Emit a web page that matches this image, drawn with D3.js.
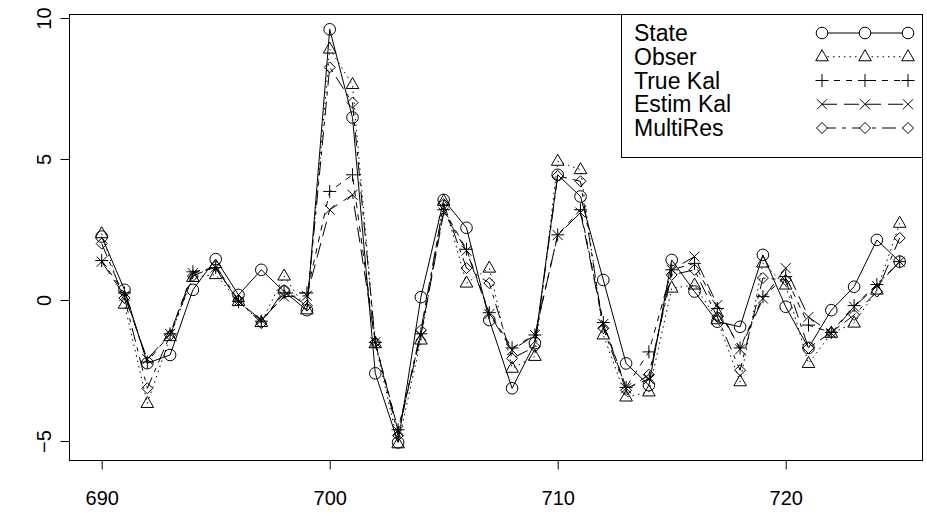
<!DOCTYPE html>
<meta charset="utf-8">
<style>
body { margin: 0; background: #fff; }
text { font-family: "Liberation Sans", Arial, sans-serif; font-size: 20px; fill: #000; }
</style>
<svg width="927" height="516"></svg>
<script src="https://d3js.org/d3.v7.min.js"></script>
<script>

// time index
var steps = d3.range(690, 726);

var state    = [2.25, 0.36, -2.24, -1.95, 0.36, 1.45, 0.18, 1.07, 0.3, -0.36, 9.6, 6.47, -2.6, -5.05, 0.1, 3.55, 2.56, -0.71, -3.13, -1.53, 4.44, 3.67, 0.71, -2.25, -3.02, 1.42, 0.3, -0.77, -0.95, 1.6, -0.24, -1.7, -0.36, 0.47, 2.13, 1.36];
var obser    = [2.35, -0.15, -3.67, -1.3, 0.8, 0.9, -0.05, -0.8, 0.85, -0.35, 8.9, 7.64, -1.55, -5.1, -1.42, 3.5, 0.6, 1.13, -2.42, -2.0, 4.92, 4.62, -1.24, -3.44, -3.26, 0.42, 0.53, -0.7, -2.9, 1.31, 0.53, -2.25, -1.18, -0.82, 0.35, 2.72];
var trueKal  = [1.4, 0.25, -2.2, -1.2, 1.0, 1.15, -0.05, -0.75, 0.25, 0.25, 3.85, 4.44, -1.5, -4.6, -1.2, 3.2, 1.8, -0.45, -1.7, -1.24, 2.31, 3.2, -0.8, -3.1, -1.84, 1.07, 1.3, -0.3, -1.7, 0.12, 0.83, -0.89, -1.15, -0.2, 0.55, 1.36];
var estimKal = [1.36, 0.15, -2.1, -1.2, 0.95, 1.15, -0.05, -0.71, 0.12, 0.15, 3.2, 3.73, -1.5, -4.65, -1.25, 3.1, 1.75, -0.5, -1.78, -1.24, 2.3, 3.1, -0.85, -3.13, -2.8, 1.07, 1.54, -0.18, -1.75, 0.05, 1.13, -0.6, -1.18, -0.24, 0.5, 1.36];
var multiRes = [2.0, 0.07, -3.13, -1.25, 0.85, 1.2, 0.0, -0.82, 0.35, -0.2, 8.25, 7.0, -1.5, -4.8, -1.07, 3.4, 1.13, 0.6, -2.07, -1.66, 4.4, 4.21, -1.0, -3.2, -2.65, 0.89, 1.07, -0.6, -2.49, 0.78, 0.71, -1.7, -1.15, -0.53, 0.3, 2.2];

var seriesNames = ["State", "Obser", "True Kal", "Estim Kal", "MultiRes"];
var xTicks = [690, 700, 710, 720];
var yTicks = [-5, 0, 5, 10];

var series = [
  {name: seriesNames[0], values: state,    pch: "circle",   dash: null},
  {name: seriesNames[1], values: obser,    pch: "triangle", dash: "1.5,4"},
  {name: seriesNames[2], values: trueKal,  pch: "plus",     dash: "6,6"},
  {name: seriesNames[3], values: estimKal, pch: "cross",    dash: "15,7"},
  {name: seriesNames[4], values: multiRes, pch: "diamond",  dash: "14,6,4,6"}
];

var svg = d3.select("svg");
var box = {left: 69.5, right: 922.5, top: 14.5, bottom: 460.5};

var x = d3.scaleLinear().domain([690, 725]).range([101.7, 899.7]);
var y = d3.scaleLinear().domain([-5, 10]).range([441, 18]);

// R-like plotting symbols
function symbolPath(type) {
  switch (type) {
    case "circle":   return "M-5.8,0a5.8,5.8 0 1,0 11.6,0a5.8,5.8 0 1,0 -11.6,0";
    case "triangle": return "M0,-7L6.3,4L-6.3,4Z";
    case "plus":     return "M-6.5,0H6.5M0,-6.5V6.5";
    case "cross":    return "M-5,-5L5,5M-5,5L5,-5";
    case "diamond":  return "M0,-5.5L5.5,0L0,5.5L-5.5,0Z";
  }
}

var line = d3.line()
  .x(function(d, i) { return x(steps[i]); })
  .y(function(d) { return y(d); });

var plot = svg.append("g");

series.forEach(function(s) {
  plot.append("path")
    .attr("d", line(s.values))
    .attr("fill", "none")
    .attr("stroke", "#000")
    .attr("stroke-width", 1)
    .attr("stroke-dasharray", s.dash);

  plot.selectAll(null)
    .data(s.values)
    .enter().append("path")
    .attr("transform", function(d, i) { return "translate(" + x(steps[i]) + "," + y(d) + ")"; })
    .attr("d", symbolPath(s.pch))
    .attr("fill", "none")
    .attr("stroke", "#000")
    .attr("stroke-width", 1);
});

// frame
svg.append("rect")
  .attr("x", box.left).attr("y", box.top)
  .attr("width", box.right - box.left).attr("height", box.bottom - box.top)
  .attr("fill", "none").attr("stroke", "#000");

// X axis
var xAxis = svg.append("g")
  .attr("transform", "translate(0," + box.bottom + ")")
  .call(d3.axisBottom(x).tickValues(xTicks).tickSize(9).tickPadding(0).tickFormat(d3.format("d")));
xAxis.select(".domain").remove();
xAxis.selectAll("text").attr("dy", null).attr("y", 44).style("font-size", "20px").style("font-family", "Liberation Sans, Arial, sans-serif");

// Y axis (labels rotated, like R)
var yAxis = svg.append("g")
  .attr("transform", "translate(" + box.left + ",0)")
  .call(d3.axisLeft(y).tickValues(yTicks).tickSize(9).tickFormat(function(d) { return d < 0 ? "\u2212" + Math.abs(d) : d; }));
yAxis.select(".domain").remove();
yAxis.selectAll(".tick text")
  .attr("x", null).attr("dy", null)
  .attr("text-anchor", "middle")
  .attr("transform", "translate(-19,0) rotate(-90)")
  .style("font-size", "20px").style("font-family", "Liberation Sans, Arial, sans-serif");

// legend
var lg = svg.append("g");
lg.append("rect")
  .attr("x", 621.5).attr("y", box.top)
  .attr("width", box.right - 621.5).attr("height", 143)
  .attr("fill", "#fff").attr("stroke", "#000");

var symX = [822, 865, 908];
series.forEach(function(s, k) {
  var cy = 33 + k * 23.75;
  lg.append("text").attr("x", 634).attr("y", cy + 8).style("font-size", "23px").text(s.name);
  lg.append("line")
    .attr("x1", symX[0]).attr("x2", symX[2]).attr("y1", cy).attr("y2", cy)
    .attr("stroke", "#000").attr("stroke-dasharray", s.dash);
  symX.forEach(function(sx) {
    lg.append("path")
      .attr("transform", "translate(" + sx + "," + cy + ")")
      .attr("d", symbolPath(s.pch))
      .attr("fill", s.pch == "plus" || s.pch == "cross" ? "none" : "#fff")
      .attr("stroke", "#000");
  });
});

</script>
